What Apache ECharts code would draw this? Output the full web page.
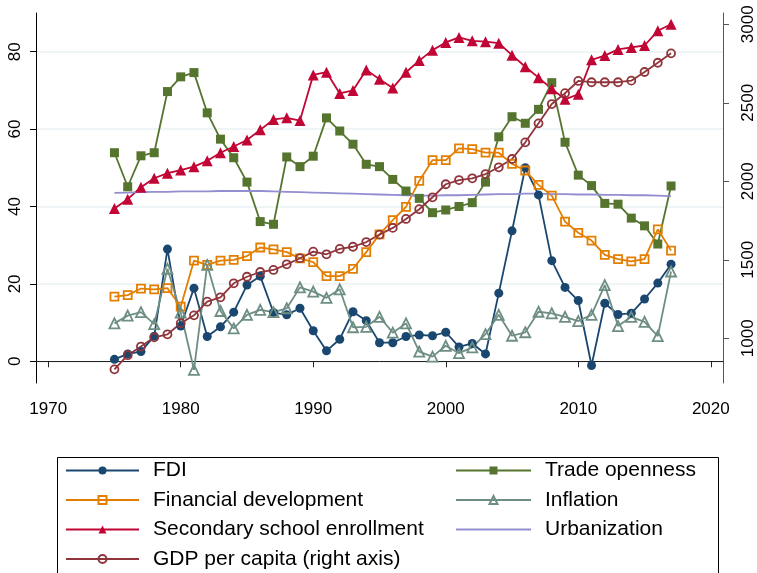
<!DOCTYPE html>
<html>
<head>
<meta charset="utf-8">
<script src="https://cdn.jsdelivr.net/npm/echarts@6/dist/echarts.min.js"></script>
<style>
    html, body { margin: 0; padding: 0; background: #fff; }
    #chart { width: 757px; height: 573px; }
</style>
</head>
<body>
<div id="chart"></div>
<script>
// years on x axis
var years = [1975,1976,1977,1978,1979,1980,1981,1982,1983,1984,1985,1986,1987,1988,1989,
    1990,1991,1992,1993,1994,1995,1996,1997,1998,1999,2000,2001,2002,2003,2004,
    2005,2006,2007,2008,2009,2010,2011,2012,2013,2014,2015,2016,2017];

// left axis series
var fdi = [0.5,1.9,2.5,6.5,29.0,9.1,18.9,6.4,8.9,12.7,19.7,22.0,12.6,12.0,13.7,7.9,2.7,5.7,12.8,10.5,4.8,4.8,6.4,
    6.8,6.6,7.5,3.7,4.6,1.9,17.6,33.7,50.0,43.0,26.0,19.1,15.7,-1.1,15.0,12.1,12.4,16.1,20.2,25.1];
var trade = [53.9,45.1,53.1,53.9,69.7,73.5,74.6,64.2,57.4,52.6,46.3,36.1,35.4,52.8,50.3,53.0,62.9,59.5,56.1,50.9,50.3,47.0,44.0,
    42.1,38.4,39.1,40.0,41.0,46.3,58.0,63.2,61.5,65.1,72.0,56.6,48.1,45.4,40.8,40.6,37.0,35.0,30.3,45.3];
var financial = [16.7,17.1,18.8,18.6,18.9,14.1,26.0,24.9,26.0,26.2,27.2,29.4,28.9,28.2,26.6,25.6,22.0,22.0,23.9,28.2,32.8,36.5,39.9,
    46.6,52.0,52.0,55.0,54.8,53.9,53.9,51.0,49.3,45.6,42.8,36.1,33.2,31.2,27.5,26.4,25.8,26.4,34.1,28.6];
var inflation = [9.8,11.8,12.7,9.6,23.9,12.6,-2.2,24.9,13.0,8.5,12.0,13.3,12.7,13.7,19.1,18.0,16.4,18.6,8.8,8.9,11.5,7.4,9.8,
    2.5,1.2,4.0,2.1,3.6,7.0,12.0,6.6,7.5,12.8,12.4,11.5,10.4,12.0,19.7,9.1,11.5,10.2,6.5,23.2];
var school = [39.5,41.9,45.0,47.3,48.6,49.4,50.3,51.8,53.9,55.5,57.2,59.8,62.5,62.9,62.2,74.0,74.7,69.2,70.0,75.3,72.9,70.6,74.7,
    77.7,80.4,82.4,83.7,82.8,82.6,82.2,79.1,76.1,73.3,70.4,67.7,69.0,77.9,79.0,80.6,81.1,81.6,85.4,87.1];
var urban = [43.5,43.6,43.7,43.8,43.8,43.9,43.9,43.9,44.0,44.0,44.0,44.0,43.9,43.8,43.7,43.6,43.5,43.4,43.3,43.2,43.1,43.0,42.9,
    42.8,42.8,42.9,42.9,43.0,43.1,43.2,43.2,43.3,43.3,43.2,43.2,43.1,43.1,43.0,43.0,42.9,42.9,42.8,42.7];
// right axis series
var gdp = [802,892,947,1006,1025,1096,1146,1233,1261,1350,1392,1422,1435,1471,1510,1552,1535,1569,1583,1613,1660,1703,1760,
    1822,1898,1981,2008,2019,2046,2089,2142,2248,2369,2492,2561,2639,2631,2631,2631,2641,2696,2755,2815];

// tick labels
var xTicks = [1970,1980,1990,2000,2010,2020];
var leftTicks = [0,20,40,60,80];
var rightTicks = [1000,1500,2000,2500,3000];

var FONT = '"Liberation Sans", Arial, sans-serif';

function pairs(arr) {
    return arr.map(function (v, i) { return [years[i], v]; });
}
function plain(v) { return String(v); }

// 一条折线
function mkLine(name, data, color, symbol, size, hollow, yIdx) {
    return {
        name: name,
        type: 'line',
        yAxisIndex: yIdx || 0,
        data: pairs(data),
        symbol: symbol,
        symbolSize: size,
        showSymbol: symbol !== 'none',
        lineStyle: { color: color, width: 1.8 },
        itemStyle: hollow
            ? { color: 'rgba(255,255,255,0)', borderColor: color, borderWidth: 1.8 }
            : { color: color, borderColor: color, borderWidth: 0 },
        emphasis: { disabled: true },
        animation: false
    };
}

var legendText = { fontSize: 21, color: '#000', fontFamily: FONT, padding: [0, 0, 0, 9] };

var myChart = echarts.init(document.getElementById('chart'));
var option = {
    backgroundColor: '#fff',
    animation: false,
    grid: { left: 36, right: 32, top: 13, bottom: 190, containLabel: false },
    xAxis: {
        type: 'value',
        min: 1969.08,
        max: 2020.92,
        axisLine: { show: true, lineStyle: { color: '#222', width: 1 } },
        axisTick: { show: true, length: 6, customValues: xTicks, lineStyle: { color: '#222' } },
        axisLabel: { customValues: xTicks, formatter: plain, fontSize: 17, color: '#000', fontFamily: FONT, margin: 18 },
        splitLine: { show: false }
    },
    yAxis: [
        {
            type: 'value',
            min: -5.61,
            max: 90.0,
            position: 'left',
            axisLine: { show: true, lineStyle: { color: '#000', width: 1 } },
            axisTick: { show: true, length: 6, customValues: leftTicks, lineStyle: { color: '#000' } },
            axisLabel: { customValues: leftTicks, formatter: plain, rotate: 90, fontSize: 17, color: '#000', fontFamily: FONT, margin: 12 },
            splitLine: { show: true, lineStyle: { color: '#eaf0f3', width: 1.5 } }
        },
        {
            type: 'value',
            min: 715,
            max: 3072,
            position: 'right',
            axisLine: { show: true, lineStyle: { color: '#555', width: 1 } },
            axisTick: { show: true, length: 6, customValues: rightTicks, lineStyle: { color: '#555' } },
            axisLabel: { customValues: rightTicks, formatter: plain, rotate: 90, fontSize: 17, color: '#000', fontFamily: FONT, margin: 17 },
            splitLine: { show: false }
        }
    ],
    legend: [
        {
            orient: 'vertical',
            left: 65,
            top: 460,
            padding: 0,
            itemWidth: 73,
            itemHeight: 10,
            itemGap: 8.5,
            data: ['FDI', 'Financial development', 'Secondary school enrollment', 'GDP per capita (right axis)'],
            textStyle: legendText
        },
        {
            orient: 'vertical',
            left: 455,
            top: 460,
            padding: 0,
            itemWidth: 75,
            itemHeight: 10,
            itemGap: 8.5,
            data: ['Trade openness', 'Inflation', { name: 'Urbanization', icon: 'path://M0,0 H75 V2 H0 Z' }],
            textStyle: legendText
        }
    ],
    graphic: [
        {
            type: 'rect',
            shape: { x: 57.5, y: 457.5, width: 661, height: 120 },
            style: { fill: 'none', stroke: '#000', lineWidth: 1 },
            silent: true
        }
    ],
    series: [
        mkLine('FDI', fdi, '#1a476f', 'circle', 9, false),
        mkLine('Trade openness', trade, '#55752f', 'rect', 9, false),
        mkLine('Financial development', financial, '#e37e00', 'rect', 8, true),
        mkLine('Inflation', inflation, '#6e8e84', 'triangle', 10, true),
        mkLine('Secondary school enrollment', school, '#c10534', 'triangle', 11, false),
        mkLine('Urbanization', urban, '#938dd2', 'none', 0, false),
        mkLine('GDP per capita (right axis)', gdp, '#90353b', 'circle', 8, true, 1)
    ]
};
myChart.setOption(option);
</script>
</body>
</html>
